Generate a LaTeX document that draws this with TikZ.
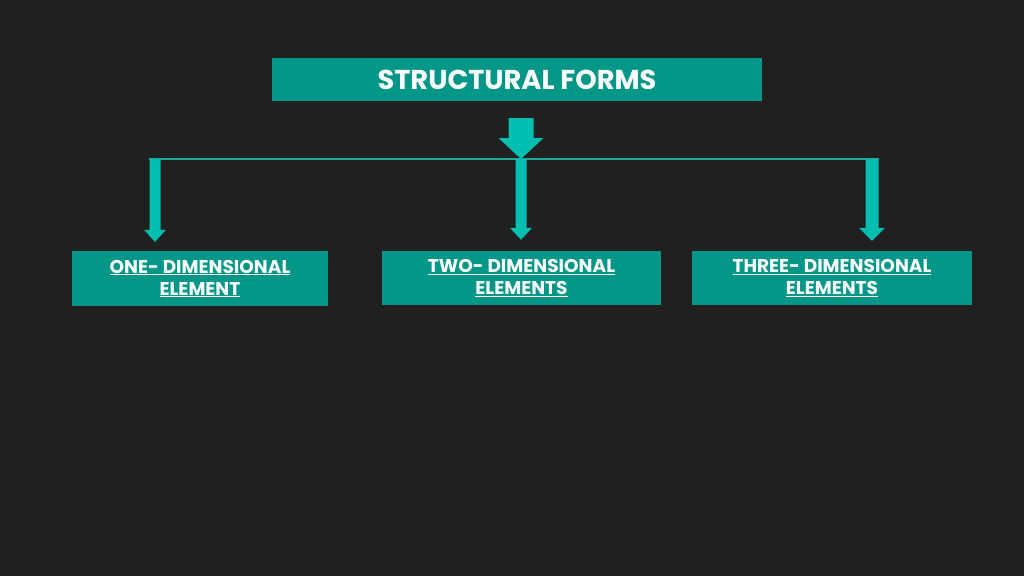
\documentclass[tikz,border=0pt]{standalone}
\usepackage{fontspec}
\setmainfont{Poppins}
\usetikzlibrary{calc}
\definecolor{bg}{HTML}{202020}
\definecolor{boxteal}{HTML}{009688}
\definecolor{arrowteal}{HTML}{00BFB0}
\definecolor{linet}{HTML}{1AA89A}
\newcommand{\blockdown}[5]{%
  \fill[arrowteal] let \p1=(#1), \p2=(#2) in
    ({\x2-#3pt},{\y1}) -- ({\x2+#3pt},{\y1}) -- ({\x2+#3pt},{\y2+#5pt}) --
    ({\x2+#4pt},{\y2+#5pt}) -- (\x2,\y2) -- ({\x2-#4pt},{\y2+#5pt}) --
    ({\x2-#3pt},{\y2+#5pt}) -- cycle;}
\begin{document}
\begin{tikzpicture}[x=1pt,y=-1pt,
  box/.style={fill=boxteal, inner sep=0pt, text=white, align=center,
    font=\bfseries\fontsize{18.5}{22}\selectfont},
  titlebox/.style={box, font=\bfseries\fontsize{27.3}{30}\selectfont},
  hline/.style={draw=linet, line width=1.2pt}]
\fill[bg] (0,0) rectangle (1024,576);
\useasboundingbox (0,0) rectangle (1024,576);
\node[titlebox, minimum width=490pt, minimum height=43pt] (title) at (517,79.5) {STRUCTURAL FORMS};
\node[box, minimum width=256pt, minimum height=55pt] (one) at (200,278.5) {\underline{ONE- DIMENSIONAL}\\\underline{ELEMENT}};
\node[box, minimum width=279pt, minimum height=54pt] (two) at (521.5,278) {\underline{TWO- DIMENSIONAL}\\\underline{ELEMENTS}};
\node[box, minimum width=280pt, minimum height=54pt] (three) at (832,278) {\underline{THREE- DIMENSIONAL}\\\underline{ELEMENTS}};
\coordinate (src) at (521,118);
\coordinate (hub) at (521,159);
\coordinate (lft) at (155,159);
\coordinate (rgt) at (872,159);
\draw[hline] ($(lft)+(-6,0)$) -- ($(rgt)+(7,0)$);
\blockdown{src}{hub}{12.5}{22.5}{21}
\blockdown{lft}{$(lft|-one.north)+(0,-9)$}{5.5}{11}{12}
\blockdown{hub}{$(hub|-two.north)+(0,-11)$}{5.5}{11}{12}
\blockdown{rgt}{$(rgt|-three.north)+(0,-10)$}{6.5}{13}{13}
\end{tikzpicture}
\end{document}
